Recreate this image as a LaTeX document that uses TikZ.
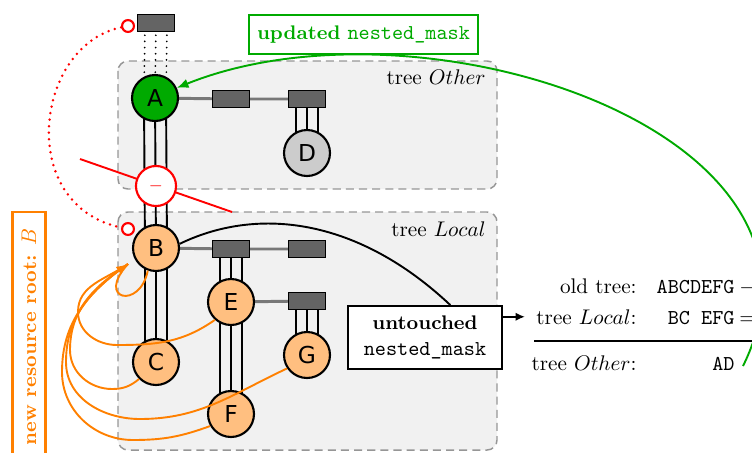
\documentclass[tikz,border=0pt]{standalone}
\usepackage{fontspec}
\newfontfamily\nodefont{DejaVu Sans}
\usetikzlibrary{arrows.meta}

\pgfdeclarelayer{regions}
\pgfdeclarelayer{wires}
\pgfsetlayers{regions,wires,main}

\definecolor{agreen}{RGB}{0,170,0}
\definecolor{lgreen}{RGB}{0,170,0}
\definecolor{orng}{RGB}{255,191,128}
\definecolor{oline}{RGB}{255,128,0}
\definecolor{regionfill}{RGB}{241,241,241}
\definecolor{regionedge}{RGB}{150,150,150}
\definecolor{rectgray}{RGB}{100,100,100}
\definecolor{dgray}{RGB}{204,204,204}
\definecolor{linegray}{RGB}{120,120,120}

\newcommand\bsz{\fontsize{9.3}{11}\selectfont\bfseries}
% three parallel wires between two node centres
\newcommand\tripleline[3][tline]{%
  \foreach \dx in {-5.2pt,0pt,5.2pt}{\draw[#1] ([xshift=\dx]#2.center) -- ([xshift=\dx]#3.center);}}

\begin{document}
\begin{tikzpicture}[x=0.472pt,y=-0.472pt,
  nd/.style={circle, draw=black, line width=1pt, minimum size=21.7pt, inner sep=0pt,
    font=\nodefont\fontsize{11}{13}\selectfont, fill=orng},
  rbox/.style={rectangle, draw=black, line width=0.9pt, fill=rectgray,
    minimum width=17.5pt, minimum height=8pt, inner sep=0pt},
  tline/.style={black, line width=0.9pt},
  dline/.style={black, line width=0.9pt, line cap=round, dash pattern=on 0pt off 2.9pt},
  gline/.style={draw=linegray, line width=1.4pt},
  region/.style={draw=regionedge, dash pattern=on 3.8pt off 2.4pt, line width=0.7pt,
    fill=regionfill, rounded corners=4.7pt},
  ocurve/.style={draw=oline, line width=0.9pt},
  rcirc/.style={circle, draw=red, fill=white, line width=1pt, minimum size=5.6pt, inner sep=0pt},
  minus/.style={circle, draw=red, fill=white, line width=1pt, minimum size=18.9pt,
    inner sep=0pt, text=red, font=\fontsize{8}{9}\selectfont},
  eq/.style={inner sep=0pt, anchor=base east}
]
\clip (0,0) rectangle (752,452);

% tree nodes
\node[rbox] (r0) at (156,23) {};
\node[nd, fill=agreen] (A) at (155,98) {A};
\node[rbox] (ra1) at (231,99) {};
\node[rbox] (ra2) at (307,99) {};
\node[nd, fill=dgray] (D) at (307,153) {D};
\node[nd] (B) at (156,248) {B};
\node[rbox] (rb1) at (231,249) {};
\node[rbox] (rb2) at (307,249) {};
\node[nd] (E) at (231,302) {E};
\node[rbox] (re1) at (307,301) {};
\node[nd] (G) at (307,355) {G};
\node[nd] (C) at (156,362) {C};
\node[nd] (F) at (231,414) {F};
\node[minus] (M) at (156,186) {$-$};
\node[rcirc] (rt) at (128,26) {};
\node[rcirc] (rb) at (128,229) {};
\coordinate (rl1) at (80,159);
\coordinate (rl2) at (232,212);

% region labels
\node[anchor=base east, inner sep=0pt] (lblO) at (486,84) {tree $Other$};
\node[anchor=base east, inner sep=0pt] (lblL) at (486,236) {tree $Local$};

\begin{pgfonlayer}{regions}
  \draw[region] (118,61) rectangle (497,189);
  \draw[region] (118,212) rectangle (497,450);
\end{pgfonlayer}

\begin{pgfonlayer}{wires}
  \tripleline[dline]{r0}{A}
  \tripleline{A}{B}
  \tripleline{ra2}{D}
  \tripleline{B}{C}
  \tripleline{rb1}{E}
  \tripleline{E}{F}
  \tripleline{re1}{G}
  \draw[gline] (A.center) -- (ra1.center) -- (ra2.center);
  \draw[gline] (B.center) -- (rb1.center) -- (rb2.center);
  \draw[gline] (E.center) -- (re1.center);
  \draw[red, line width=0.9pt] (rl1) -- (rl2);
\end{pgfonlayer}

% red dotted link between the two roots
\draw[red, line width=1.3pt, line cap=round, dash pattern=on 0pt off 3.1pt]
  (rt) .. controls (35,45) and (15,205) .. (rb);

% annotation boxes
\node[draw, line width=0.9pt, fill=white, minimum width=72.7pt, minimum height=29.7pt,
  align=center, inner sep=0pt] (um) at (425,337.5)
  {{\bsz untouched}\\[0.6pt]\texttt{nested\_mask}};
\node[draw=lgreen, line width=1pt, text=lgreen, minimum width=108pt, minimum height=18.4pt,
  inner sep=0pt] (upd) at (363.5,34.5) {{\bsz updated} \texttt{nested\_mask}};
\node[draw=oline, line width=1pt, text=oline, rotate=90, minimum width=118pt,
  minimum height=15.6pt, inner sep=0pt] (nrr) at (29,337) {{\bsz new resource root:} $B$};

% equation
\node[eq] (eqOld) at (637,293) {old tree:};
\node[eq] (eqLoc) at (637,324) {tree $Local$:};
\node[eq] (eqOth) at (637,370) {tree $Other$:};
\node[eq] (sOld) at (735,293) {\texttt{ABCDEFG}};
\node[eq] (sLoc) at (735,324) {\texttt{BC\ EFG}};
\node[eq] (sOth) at (735,370) {\texttt{AD}};
\node[anchor=base west, inner sep=0pt] (opMinus) at (739,293) {$-$};
\node[anchor=base west, inner sep=0pt] (opEq) at (739,324) {$=$};
\draw[line width=0.5pt] (534,341) -- (760,341);
\coordinate (gs) at (743,366);

% connectors
\draw[line width=0.9pt] (B.10) .. controls (260,205) and (360,220) .. (um.52);
\draw[line width=0.9pt, -{Latex[length=4.5pt,width=4pt]}, shorten >=5.2pt]
  (um.east |- eqLoc.west) -- (eqLoc.west);
\draw[lgreen, line width=0.9pt, -{Latex[length=5.5pt,width=4.5pt]}]
  (gs) .. controls (860,130) and (420,-10) .. (A.25);

% moves of the resource root to B
\coordinate (ot) at (128,264);
\draw[ocurve] (B.250) .. controls (140,310) and (95,300) .. (ot);
\draw[ocurve] (E.228) to[out=215, in=0] (117,345) to[out=180, in=-90] (78,312)
  to[out=90, in=215] (ot);
\draw[ocurve] (G.214) to[out=205, in=0] (140,419) to[out=180, in=-90] (66,362)
  to[out=90, in=215] (ot);
\draw[ocurve] (F.210) to[out=200, in=0] (133,440) to[out=180, in=-90] (62,372)
  to[out=90, in=215] (ot);
\draw[ocurve, -{Latex[length=5.5pt,width=4.5pt]}] (C.225) to[out=220, in=0] (112,389)
  to[out=180, in=-90] (70,350) to[out=90, in=215] (ot);
\end{tikzpicture}
\end{document}
